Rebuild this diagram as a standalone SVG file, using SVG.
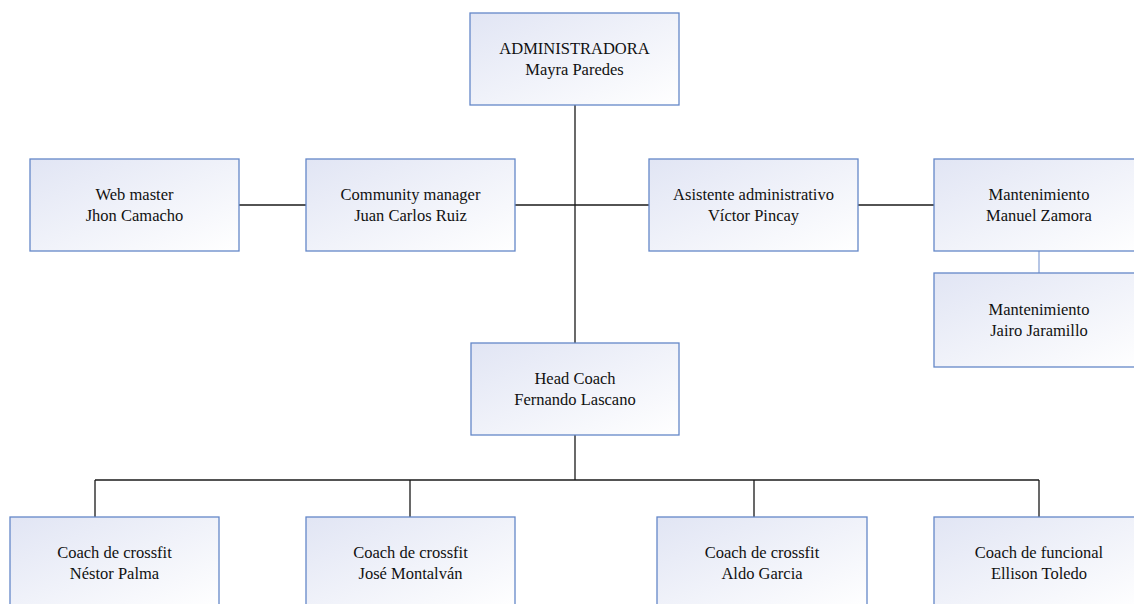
<svg xmlns="http://www.w3.org/2000/svg" width="1134" height="604" viewBox="0 0 1134 604">
  <defs>
    <linearGradient id="g" x1="0" y1="0" x2="1" y2="1">
      <stop offset="0" stop-color="#e1e5f4"/>
      <stop offset="1" stop-color="#ffffff"/>
    </linearGradient>
  </defs>
  <style>
    .box { fill: url(#g); stroke: #6487c8; stroke-width: 1.3; }
    .t { font-family: "Liberation Serif", "Times New Roman", serif; font-size: 16.5px; fill: #111111; text-anchor: middle; }
    .c { stroke: #1a1a1a; stroke-width: 1.3; fill: none; }
    .cb { stroke: #8fa8d8; stroke-width: 1.3; fill: none; }
  </style>
  <rect width="1134" height="604" fill="#ffffff"/>
  <g id="connectors">
    <path class="c" d="M575 105 V343"/>
    <path class="c" d="M515 205 H649"/>
    <path class="c" d="M239 205 H306"/>
    <path class="c" d="M858 205 H934"/>
    <path class="cb" d="M1039 251 V273"/>
    <path class="c" d="M575 435 V480"/>
    <path class="c" d="M95 480 H1039"/>
    <path class="c" d="M95 480 V517 M410 480 V517 M754 480 V517 M1039 480 V517"/>
  </g>
  <g id="admin">
    <rect class="box" x="470" y="13" width="209" height="92"/>
    <text class="t" x="574.5" y="53.5">ADMINISTRADORA</text>
    <text class="t" x="574.5" y="74.5">Mayra Paredes</text>
  </g>
  <g id="webmaster">
    <rect class="box" x="30" y="159" width="209" height="92"/>
    <text class="t" x="134.5" y="199.5">Web master</text>
    <text class="t" x="134.5" y="220.5">Jhon Camacho</text>
  </g>
  <g id="community">
    <rect class="box" x="306" y="159" width="209" height="92"/>
    <text class="t" x="410.5" y="199.5">Community manager</text>
    <text class="t" x="410.5" y="220.5">Juan Carlos Ruiz</text>
  </g>
  <g id="asistente">
    <rect class="box" x="649" y="159" width="209" height="92"/>
    <text class="t" x="753.5" y="199.5">Asistente administrativo</text>
    <text class="t" x="753.5" y="220.5">Víctor Pincay</text>
  </g>
  <g id="mant1">
    <rect class="box" x="934" y="159" width="210" height="92"/>
    <text class="t" x="1039" y="199.5">Mantenimiento</text>
    <text class="t" x="1039" y="220.5">Manuel Zamora</text>
  </g>
  <g id="mant2">
    <rect class="box" x="934" y="273" width="210" height="94"/>
    <text class="t" x="1039" y="314.5">Mantenimiento</text>
    <text class="t" x="1039" y="335.5">Jairo Jaramillo</text>
  </g>
  <g id="headcoach">
    <rect class="box" x="471" y="343" width="208" height="92"/>
    <text class="t" x="575" y="384">Head Coach</text>
    <text class="t" x="575" y="405">Fernando Lascano</text>
  </g>
  <g id="coach1">
    <rect class="box" x="10" y="517" width="209" height="92"/>
    <text class="t" x="114.5" y="558">Coach de crossfit</text>
    <text class="t" x="114.5" y="579">Néstor Palma</text>
  </g>
  <g id="coach2">
    <rect class="box" x="306" y="517" width="209" height="92"/>
    <text class="t" x="410.5" y="558">Coach de crossfit</text>
    <text class="t" x="410.5" y="579">José Montalván</text>
  </g>
  <g id="coach3">
    <rect class="box" x="657" y="517" width="210" height="92"/>
    <text class="t" x="762" y="558">Coach de crossfit</text>
    <text class="t" x="762" y="579">Aldo Garcia</text>
  </g>
  <g id="coach4">
    <rect class="box" x="934" y="517" width="210" height="92"/>
    <text class="t" x="1039" y="558">Coach de funcional</text>
    <text class="t" x="1039" y="579">Ellison Toledo</text>
  </g>
</svg>
